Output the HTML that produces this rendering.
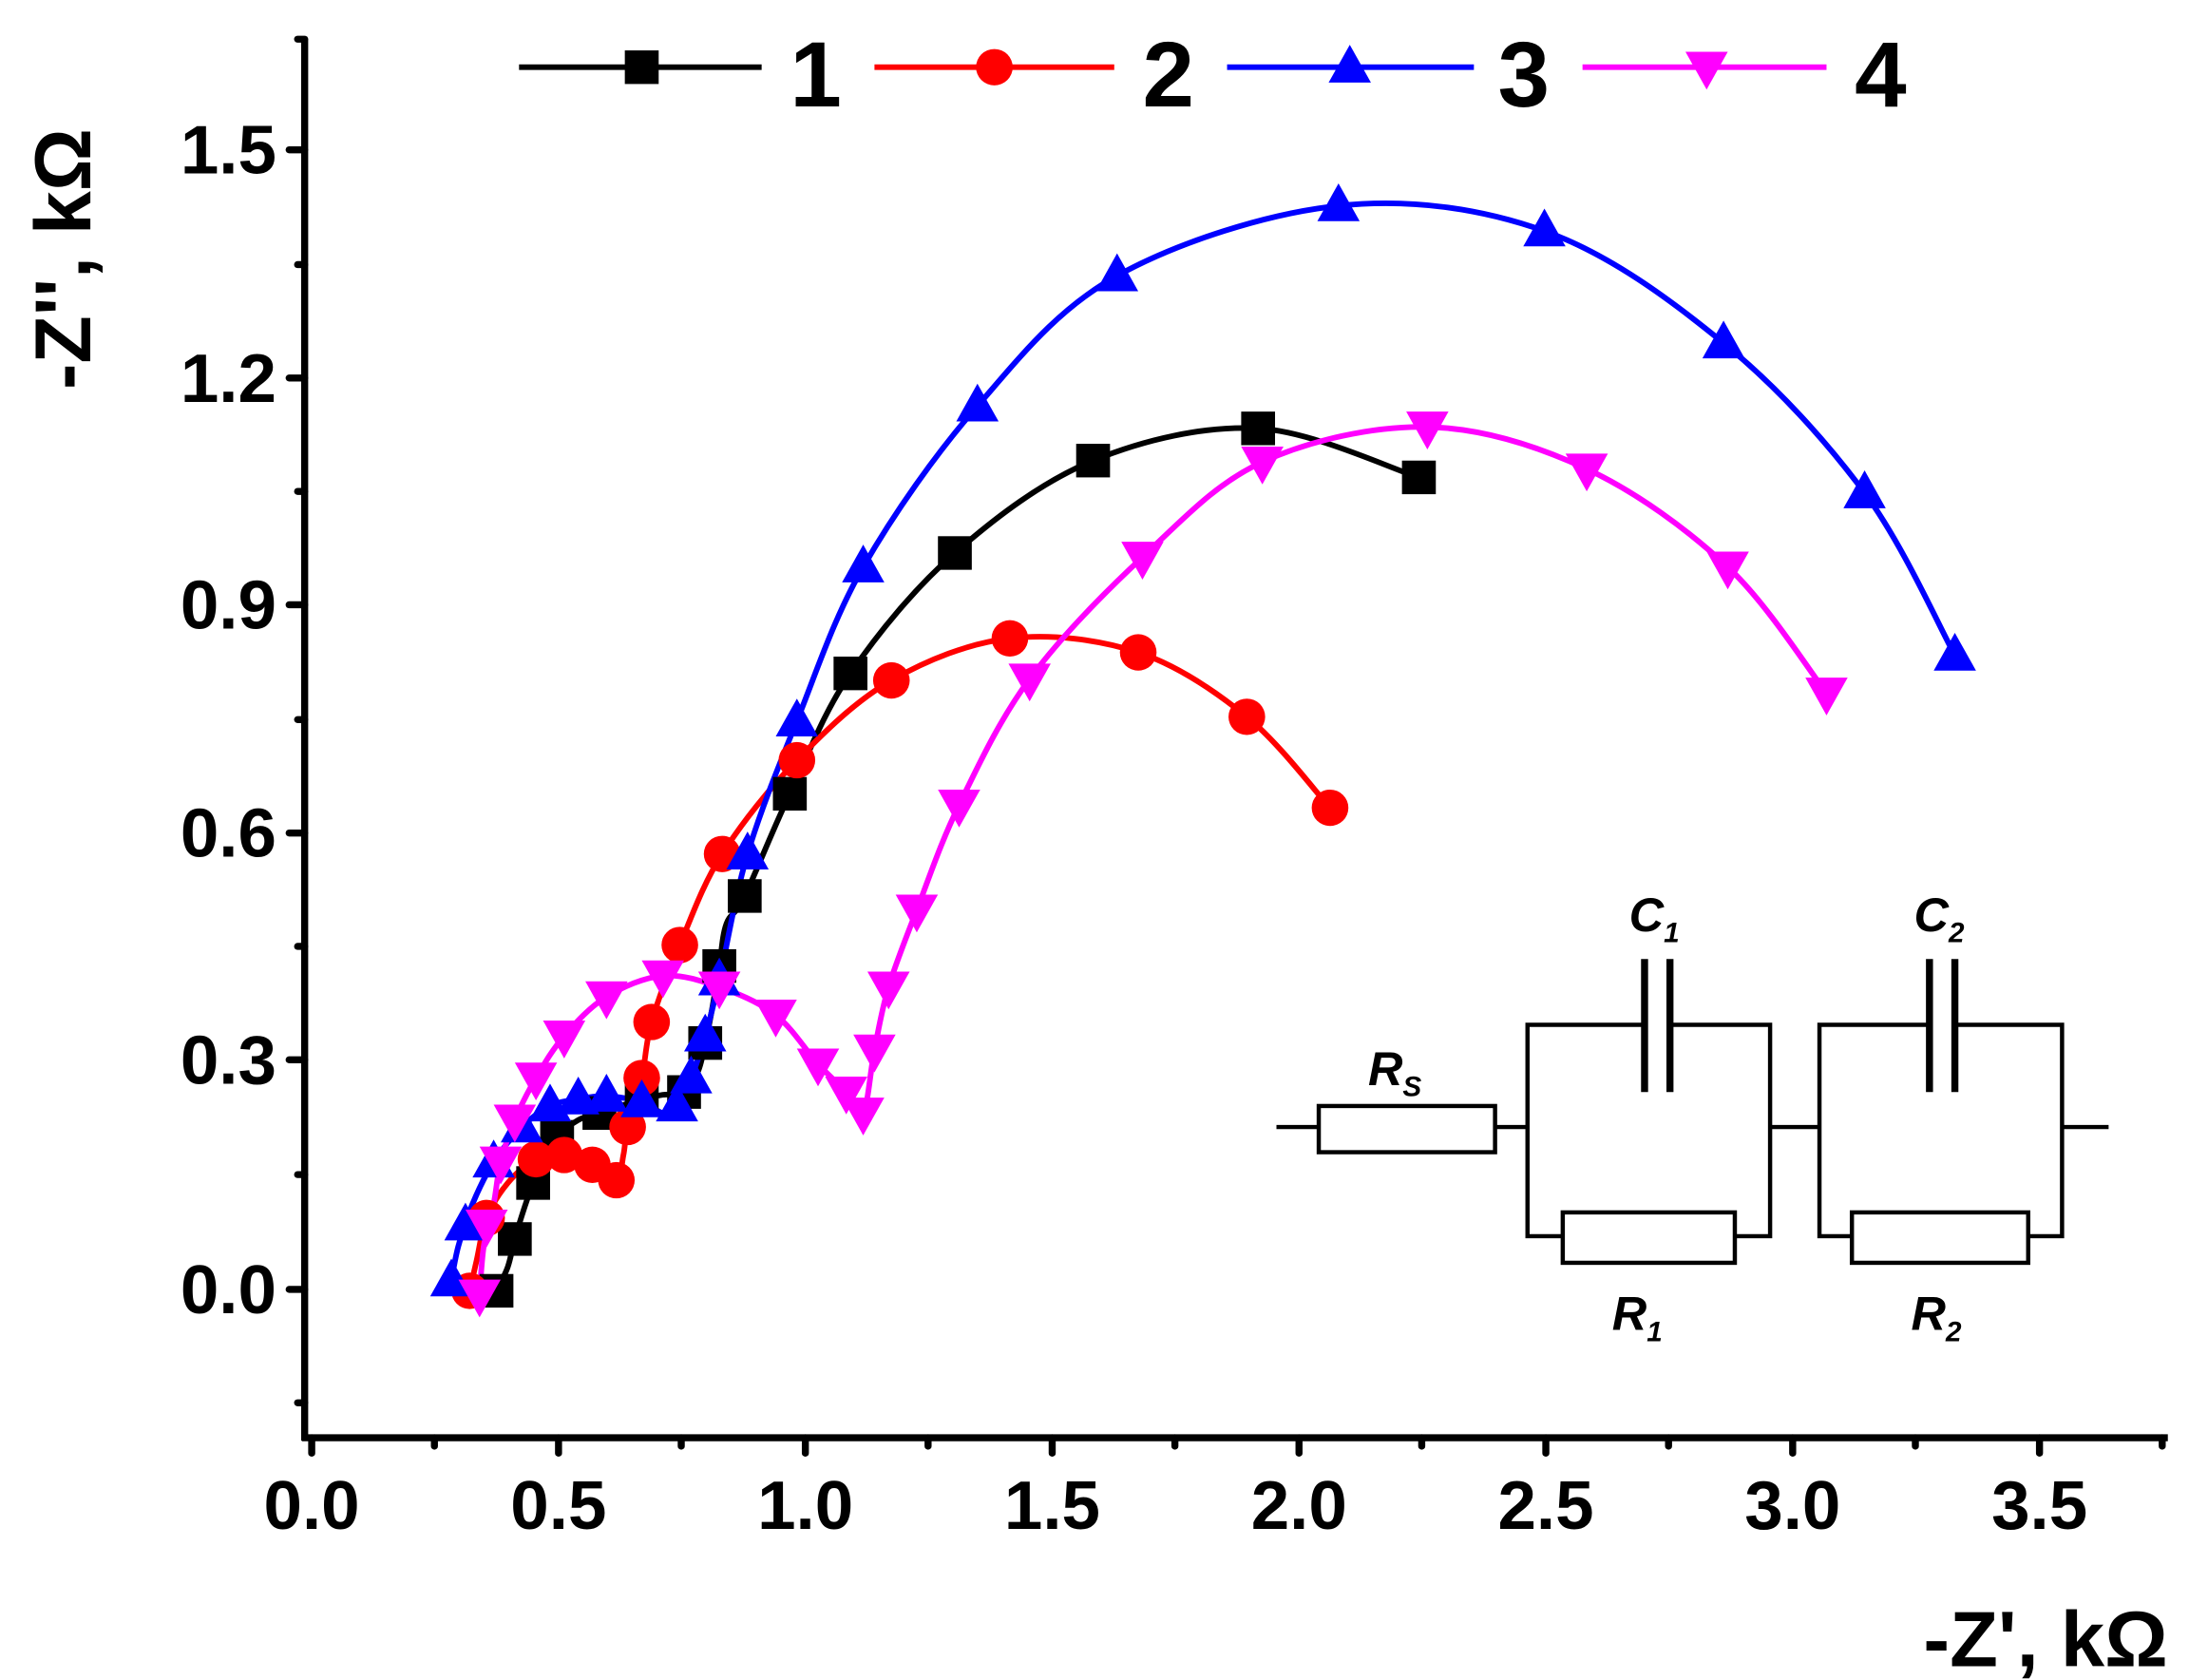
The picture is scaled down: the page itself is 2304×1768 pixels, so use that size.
<!DOCTYPE html>
<html><head><meta charset="utf-8"><style>html,body{margin:0;padding:0;background:#fff}svg{display:block}</style></head>
<body>
<svg width="2304" height="1768" viewBox="0 0 1552 1200" preserveAspectRatio="none" xmlns="http://www.w3.org/2000/svg" font-family="Liberation Sans, sans-serif" font-weight="bold">
<defs>
<rect id="sq" x="-12" y="-12" width="24" height="24" fill="#000"/>
<circle id="ci" r="13" fill="#f00"/>
<polygon id="tu" points="0,-16 15,11 -15,11" fill="#00f"/>
<polygon id="td" points="0,16 15,-11 -15,-11" fill="#f0f"/>
</defs>
<g stroke="#000" stroke-width="5" fill="none">
<line x1="216" y1="28" x2="216" y2="1029"/>
<line x1="214" y1="1027" x2="1537" y2="1027"/>
</g>
<g stroke="#000" stroke-width="5" stroke-linecap="round">
<line x1="205" y1="107" x2="216" y2="107"/><line x1="205" y1="270" x2="216" y2="270"/><line x1="205" y1="432" x2="216" y2="432"/><line x1="205" y1="595" x2="216" y2="595"/><line x1="205" y1="757" x2="216" y2="757"/><line x1="205" y1="921" x2="216" y2="921"/>
<line x1="211" y1="189" x2="216" y2="189"/><line x1="211" y1="351" x2="216" y2="351"/><line x1="211" y1="514" x2="216" y2="514"/><line x1="211" y1="676" x2="216" y2="676"/><line x1="211" y1="839" x2="216" y2="839"/><line x1="211" y1="1002" x2="216" y2="1002"/><line x1="211" y1="28" x2="216" y2="28"/>
<line x1="221" y1="1027" x2="221" y2="1038"/><line x1="396" y1="1027" x2="396" y2="1038"/><line x1="571" y1="1027" x2="571" y2="1038"/><line x1="746" y1="1027" x2="746" y2="1038"/><line x1="921" y1="1027" x2="921" y2="1038"/><line x1="1096" y1="1027" x2="1096" y2="1038"/><line x1="1271" y1="1027" x2="1271" y2="1038"/><line x1="1446" y1="1027" x2="1446" y2="1038"/>
<line x1="308" y1="1027" x2="308" y2="1033"/><line x1="483" y1="1027" x2="483" y2="1033"/><line x1="658" y1="1027" x2="658" y2="1033"/><line x1="833" y1="1027" x2="833" y2="1033"/><line x1="1008" y1="1027" x2="1008" y2="1033"/><line x1="1183" y1="1027" x2="1183" y2="1033"/><line x1="1358" y1="1027" x2="1358" y2="1033"/><line x1="1533" y1="1027" x2="1533" y2="1033"/>
</g>
<g font-size="49" text-anchor="end">
<text x="196" y="124">1.5</text><text x="196" y="287">1.2</text><text x="196" y="449">0.9</text><text x="196" y="612">0.6</text><text x="196" y="774">0.3</text><text x="196" y="938">0.0</text>
</g>
<g font-size="49" text-anchor="middle">
<text x="221" y="1092">0.0</text><text x="396" y="1092">0.5</text><text x="571" y="1092">1.0</text><text x="746" y="1092">1.5</text><text x="921" y="1092">2.0</text><text x="1096" y="1092">2.5</text><text x="1271" y="1092">3.0</text><text x="1446" y="1092">3.5</text>
</g>
<text x="1537" y="1190" font-size="56" text-anchor="end">-Z', kΩ</text>
<text transform="translate(64,185) rotate(-90)" font-size="56" text-anchor="middle">-Z'', kΩ</text>
<g fill="none" stroke-width="4" stroke-linejoin="round">
<path class="sm" stroke="#000" data-p="352,922 360,905 365,885 372,862 378,845 385,828 395,812 410,800 425,795 440,790 455,785 470,782 485,780 495,765 500,745 505,720 510,690 515,660 528,640 560,567 603,481 677,395 775,329 892,306 1006,341"/>
<path class="sm" stroke="#f00" data-p="333,922 338,900 345,870 360,845 380,828 400,825 420,832 437,843 442,825 445,805 455,770 462,730 482,675 512,610 565,543 632,486 716,456 807,466 884,512 943,577"/>
<path class="sm" stroke="#00f" data-p="320,915 325,890 335,860 350,830 370,805 390,790 410,785 430,783 455,787 470,795 480,790 490,770 500,740 510,700 530,610 565,515 612,405 693,290 792,197 949,147 1095,165 1222,245 1322,352 1386,468"/>
<path class="sm" stroke="#f0f" data-p="340,925 343,890 350,860 355,830 365,800 380,770 400,740 430,712 470,697 510,705 550,725 580,760 600,780 612,795 620,750 630,705 650,650 680,575 730,485 810,398 895,330 1012,305 1125,335 1225,405 1295,495"/>
</g>
<g>
<use href="#sq" x="352" y="922"/><use href="#sq" x="365" y="885"/><use href="#sq" x="378" y="845"/><use href="#sq" x="395" y="812"/><use href="#sq" x="425" y="795"/><use href="#sq" x="455" y="785"/><use href="#sq" x="485" y="780"/><use href="#sq" x="500" y="745"/><use href="#sq" x="510" y="690"/><use href="#sq" x="528" y="640"/><use href="#sq" x="560" y="567"/><use href="#sq" x="603" y="481"/><use href="#sq" x="677" y="395"/><use href="#sq" x="775" y="329"/><use href="#sq" x="892" y="306"/><use href="#sq" x="1006" y="341"/>
<use href="#ci" x="333" y="922"/><use href="#ci" x="345" y="870"/><use href="#ci" x="380" y="828"/><use href="#ci" x="400" y="825"/><use href="#ci" x="420" y="832"/><use href="#ci" x="437" y="843"/><use href="#ci" x="445" y="805"/><use href="#ci" x="455" y="770"/><use href="#ci" x="462" y="730"/><use href="#ci" x="482" y="675"/><use href="#ci" x="512" y="610"/><use href="#ci" x="565" y="543"/><use href="#ci" x="632" y="486"/><use href="#ci" x="716" y="456"/><use href="#ci" x="807" y="466"/><use href="#ci" x="884" y="512"/><use href="#ci" x="943" y="577"/>
<use href="#tu" x="320" y="915"/><use href="#tu" x="330" y="875"/><use href="#tu" x="350" y="830"/><use href="#tu" x="370" y="805"/><use href="#tu" x="390" y="790"/><use href="#tu" x="410" y="785"/><use href="#tu" x="430" y="783"/><use href="#tu" x="455" y="787"/><use href="#tu" x="480" y="790"/><use href="#tu" x="490" y="770"/><use href="#tu" x="500" y="740"/><use href="#tu" x="510" y="700"/><use href="#tu" x="530" y="610"/><use href="#tu" x="565" y="515"/><use href="#tu" x="612" y="405"/><use href="#tu" x="693" y="290"/><use href="#tu" x="792" y="197"/><use href="#tu" x="949" y="147"/><use href="#tu" x="1095" y="165"/><use href="#tu" x="1222" y="245"/><use href="#tu" x="1322" y="352"/><use href="#tu" x="1386" y="468"/>
<use href="#td" x="340" y="925"/><use href="#td" x="345" y="875"/><use href="#td" x="355" y="830"/><use href="#td" x="365" y="800"/><use href="#td" x="380" y="770"/><use href="#td" x="400" y="740"/><use href="#td" x="430" y="712"/><use href="#td" x="470" y="697"/><use href="#td" x="510" y="705"/><use href="#td" x="550" y="725"/><use href="#td" x="580" y="760"/><use href="#td" x="600" y="780"/><use href="#td" x="612" y="795"/><use href="#td" x="620" y="750"/><use href="#td" x="630" y="705"/><use href="#td" x="650" y="650"/><use href="#td" x="680" y="575"/><use href="#td" x="730" y="485"/><use href="#td" x="810" y="398"/><use href="#td" x="895" y="330"/><use href="#td" x="1012" y="305"/><use href="#td" x="1125" y="335"/><use href="#td" x="1225" y="405"/><use href="#td" x="1295" y="495"/>
</g>
<g stroke-width="4">
<line x1="368" y1="48" x2="540" y2="48" stroke="#000"/><line x1="620" y1="48" x2="790" y2="48" stroke="#f00"/><line x1="870" y1="48" x2="1045" y2="48" stroke="#00f"/><line x1="1122" y1="48" x2="1295" y2="48" stroke="#f0f"/>
</g>
<use href="#sq" x="455" y="48"/><use href="#ci" x="705" y="48"/><use href="#tu" x="957" y="48"/><use href="#td" x="1210" y="48"/>
<g font-size="66"><text x="560" y="76">1</text><text x="810" y="76">2</text><text x="1062" y="76">3</text><text x="1315" y="76">4</text></g>
<g stroke="#000" stroke-width="3" fill="none">
<line x1="905" y1="805" x2="935" y2="805"/><rect x="935" y="790" width="125" height="33"/>
<line x1="1060" y1="805" x2="1083" y2="805"/>
<line x1="1255" y1="805" x2="1290" y2="805"/>
<line x1="1462" y1="805" x2="1495" y2="805"/>
<polyline points="1166,732 1083,732 1083,883 1108,883"/><polyline points="1184,732 1255,732 1255,883 1230,883"/>
<polyline points="1368,732 1290,732 1290,883 1313,883"/><polyline points="1386,732 1462,732 1462,883 1438,883"/>
<line x1="1166" y1="685" x2="1166" y2="780" stroke-width="5"/><line x1="1184" y1="685" x2="1184" y2="780" stroke-width="5"/>
<line x1="1368" y1="685" x2="1368" y2="780" stroke-width="5"/><line x1="1386" y1="685" x2="1386" y2="780" stroke-width="5"/>
<rect x="1108" y="866" width="122" height="36"/>
<rect x="1313" y="866" width="125" height="36"/>
</g>
<g font-size="34" font-style="italic">
<text x="1155" y="665">C<tspan font-size="20" dy="8">1</tspan></text>
<text x="1357" y="665">C<tspan font-size="20" dy="8">2</tspan></text>
<text x="970" y="775">R<tspan font-size="20" dy="8">S</tspan></text>
<text x="1143" y="950">R<tspan font-size="20" dy="8">1</tspan></text>
<text x="1355" y="950">R<tspan font-size="20" dy="8">2</tspan></text>
</g>
</svg>
<script>
document.querySelectorAll('path.sm').forEach(function(el){
 var p=el.getAttribute('data-p').trim().split(/\s+/).map(function(s){return s.split(',').map(Number);});
 var d='M'+p[0][0]+','+p[0][1];
 for(var i=0;i<p.length-1;i++){
  var p0=p[i>0?i-1:i],p1=p[i],p2=p[i+1],p3=p[i+2<p.length?i+2:i+1];
  var c1x=p1[0]+(p2[0]-p0[0])/6,c1y=p1[1]+(p2[1]-p0[1])/6;
  var c2x=p2[0]-(p3[0]-p1[0])/6,c2y=p2[1]-(p3[1]-p1[1])/6;
  d+=' C'+c1x+','+c1y+' '+c2x+','+c2y+' '+p2[0]+','+p2[1];
 }
 el.setAttribute('d',d);
});
</script>
</body></html>
